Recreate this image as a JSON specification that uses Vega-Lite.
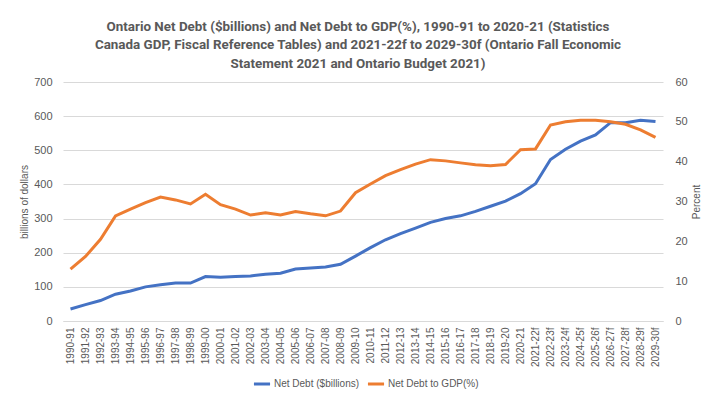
{
  "$schema": "https://vega.github.io/schema/vega-lite/v6.json",
  "width": 600,
  "height": 239,
  "autosize": "none",
  "padding": {"left": 63, "top": 82, "right": 57, "bottom": 84},
  "background": "white",
  "config": {"view": {"stroke": null}, "font": "Liberation Sans"},
  "title": {
    "text": ["Ontario Net Debt ($billions) and Net Debt to GDP(%), 1990-91 to 2020-21 (Statistics", "Canada GDP, Fiscal Reference Tables) and 2021-22f to 2029-30f (Ontario Fall Economic", "Statement 2021 and Ontario Budget 2021)"],
    "font": "Roboto",
    "fontSize": 13.4,
    "fontWeight": "bold",
    "color": "#595959",
    "lineHeight": 18.3,
    "offset": 6,
    "dx": -5
  },
  "data": {"values": [
    {"year": "1990-91", "debt": 35.3, "ratio": 13.0},
    {"year": "1991-92", "debt": 48, "ratio": 16.2},
    {"year": "1992-93", "debt": 60, "ratio": 20.5},
    {"year": "1993-94", "debt": 78.5, "ratio": 26.4},
    {"year": "1994-95", "debt": 88, "ratio": 28.1},
    {"year": "1995-96", "debt": 100, "ratio": 29.7},
    {"year": "1996-97", "debt": 106, "ratio": 31.1},
    {"year": "1997-98", "debt": 111, "ratio": 30.4},
    {"year": "1998-99", "debt": 111, "ratio": 29.4},
    {"year": "1999-00", "debt": 130, "ratio": 31.8},
    {"year": "2000-01", "debt": 128, "ratio": 29.2},
    {"year": "2001-02", "debt": 130, "ratio": 28.1},
    {"year": "2002-03", "debt": 132, "ratio": 26.6},
    {"year": "2003-04", "debt": 137, "ratio": 27.2},
    {"year": "2004-05", "debt": 140, "ratio": 26.6},
    {"year": "2005-06", "debt": 152, "ratio": 27.5},
    {"year": "2006-07", "debt": 155, "ratio": 26.9},
    {"year": "2007-08", "debt": 158, "ratio": 26.4},
    {"year": "2008-09", "debt": 166, "ratio": 27.6},
    {"year": "2009-10", "debt": 190, "ratio": 32.2},
    {"year": "2010-11", "debt": 215, "ratio": 34.4},
    {"year": "2011-12", "debt": 238, "ratio": 36.5},
    {"year": "2012-13", "debt": 256, "ratio": 38.0},
    {"year": "2013-14", "debt": 272, "ratio": 39.4},
    {"year": "2014-15", "debt": 289, "ratio": 40.5},
    {"year": "2015-16", "debt": 300, "ratio": 40.2},
    {"year": "2016-17", "debt": 308, "ratio": 39.7},
    {"year": "2017-18", "debt": 321, "ratio": 39.2},
    {"year": "2018-19", "debt": 336, "ratio": 39.0},
    {"year": "2019-20", "debt": 351, "ratio": 39.3},
    {"year": "2020-21", "debt": 373, "ratio": 43.0},
    {"year": "2021-22f", "debt": 402, "ratio": 43.2},
    {"year": "2022-23f", "debt": 473, "ratio": 49.2},
    {"year": "2023-24f", "debt": 503, "ratio": 50.0},
    {"year": "2024-25f", "debt": 527, "ratio": 50.4},
    {"year": "2025-26f", "debt": 545, "ratio": 50.4},
    {"year": "2026-27f", "debt": 581, "ratio": 50.0},
    {"year": "2027-28f", "debt": 581, "ratio": 49.4},
    {"year": "2028-29f", "debt": 588, "ratio": 48.0},
    {"year": "2029-30f", "debt": 584, "ratio": 46.1}
  ]},
  "encoding": {
    "x": {
      "field": "year",
      "type": "ordinal",
      "sort": null,
      "axis": {
        "title": null,
        "labelAngle": -90,
        "labelFontSize": 10,
        "labelColor": "#595959",
        "labelPadding": 6,
        "ticks": false,
        "domainColor": "#d9d9d9",
        "domainWidth": 1,
        "grid": false
      }
    }
  },
  "layer": [
    {
      "mark": {"type": "line", "strokeWidth": 3},
      "encoding": {
        "y": {
          "field": "debt",
          "type": "quantitative",
          "scale": {"domain": [0, 700]},
          "axis": {
            "title": "billions of dollars",
            "titleFontSize": 10,
            "titleFontWeight": "normal",
            "titleColor": "#595959",
            "titlePadding": 4,
            "values": [0, 100, 200, 300, 400, 500, 600, 700],
            "labelFontSize": 11,
            "labelColor": "#595959",
            "labelPadding": 11,
            "domain": false,
            "ticks": false,
            "grid": true,
            "gridColor": "#d9d9d9"
          }
        },
        "color": {
          "datum": "Net Debt ($billions)",
          "scale": {"domain": ["Net Debt ($billions)", "Net Debt to GDP(%)"], "range": ["#4472C4", "#ED7D31"]},
          "legend": {
            "orient": "none",
            "legendX": 189,
            "legendY": 292,
            "direction": "horizontal",
            "title": null,
            "symbolType": "stroke",
            "symbolStrokeWidth": 3,
            "symbolSize": 260,
            "labelFontSize": 10,
            "labelOffset": 2,
            "labelColor": "#595959",
            "columnPadding": 1,
            "padding": 0
          }
        }
      }
    },
    {
      "mark": {"type": "line", "strokeWidth": 3},
      "encoding": {
        "y": {
          "field": "ratio",
          "type": "quantitative",
          "scale": {"domain": [0, 60]},
          "axis": {
            "orient": "right",
            "title": "Percent",
            "titleAngle": 270,
            "titleFontSize": 10,
            "titleFontWeight": "normal",
            "titleColor": "#595959",
            "titlePadding": 14,
            "values": [0, 10, 20, 30, 40, 50, 60],
            "labelFontSize": 11,
            "labelColor": "#595959",
            "labelPadding": 12,
            "domain": false,
            "ticks": false,
            "grid": false
          }
        },
        "color": {"datum": "Net Debt to GDP(%)"}
      }
    }
  ],
  "resolve": {"scale": {"y": "independent"}}
}
